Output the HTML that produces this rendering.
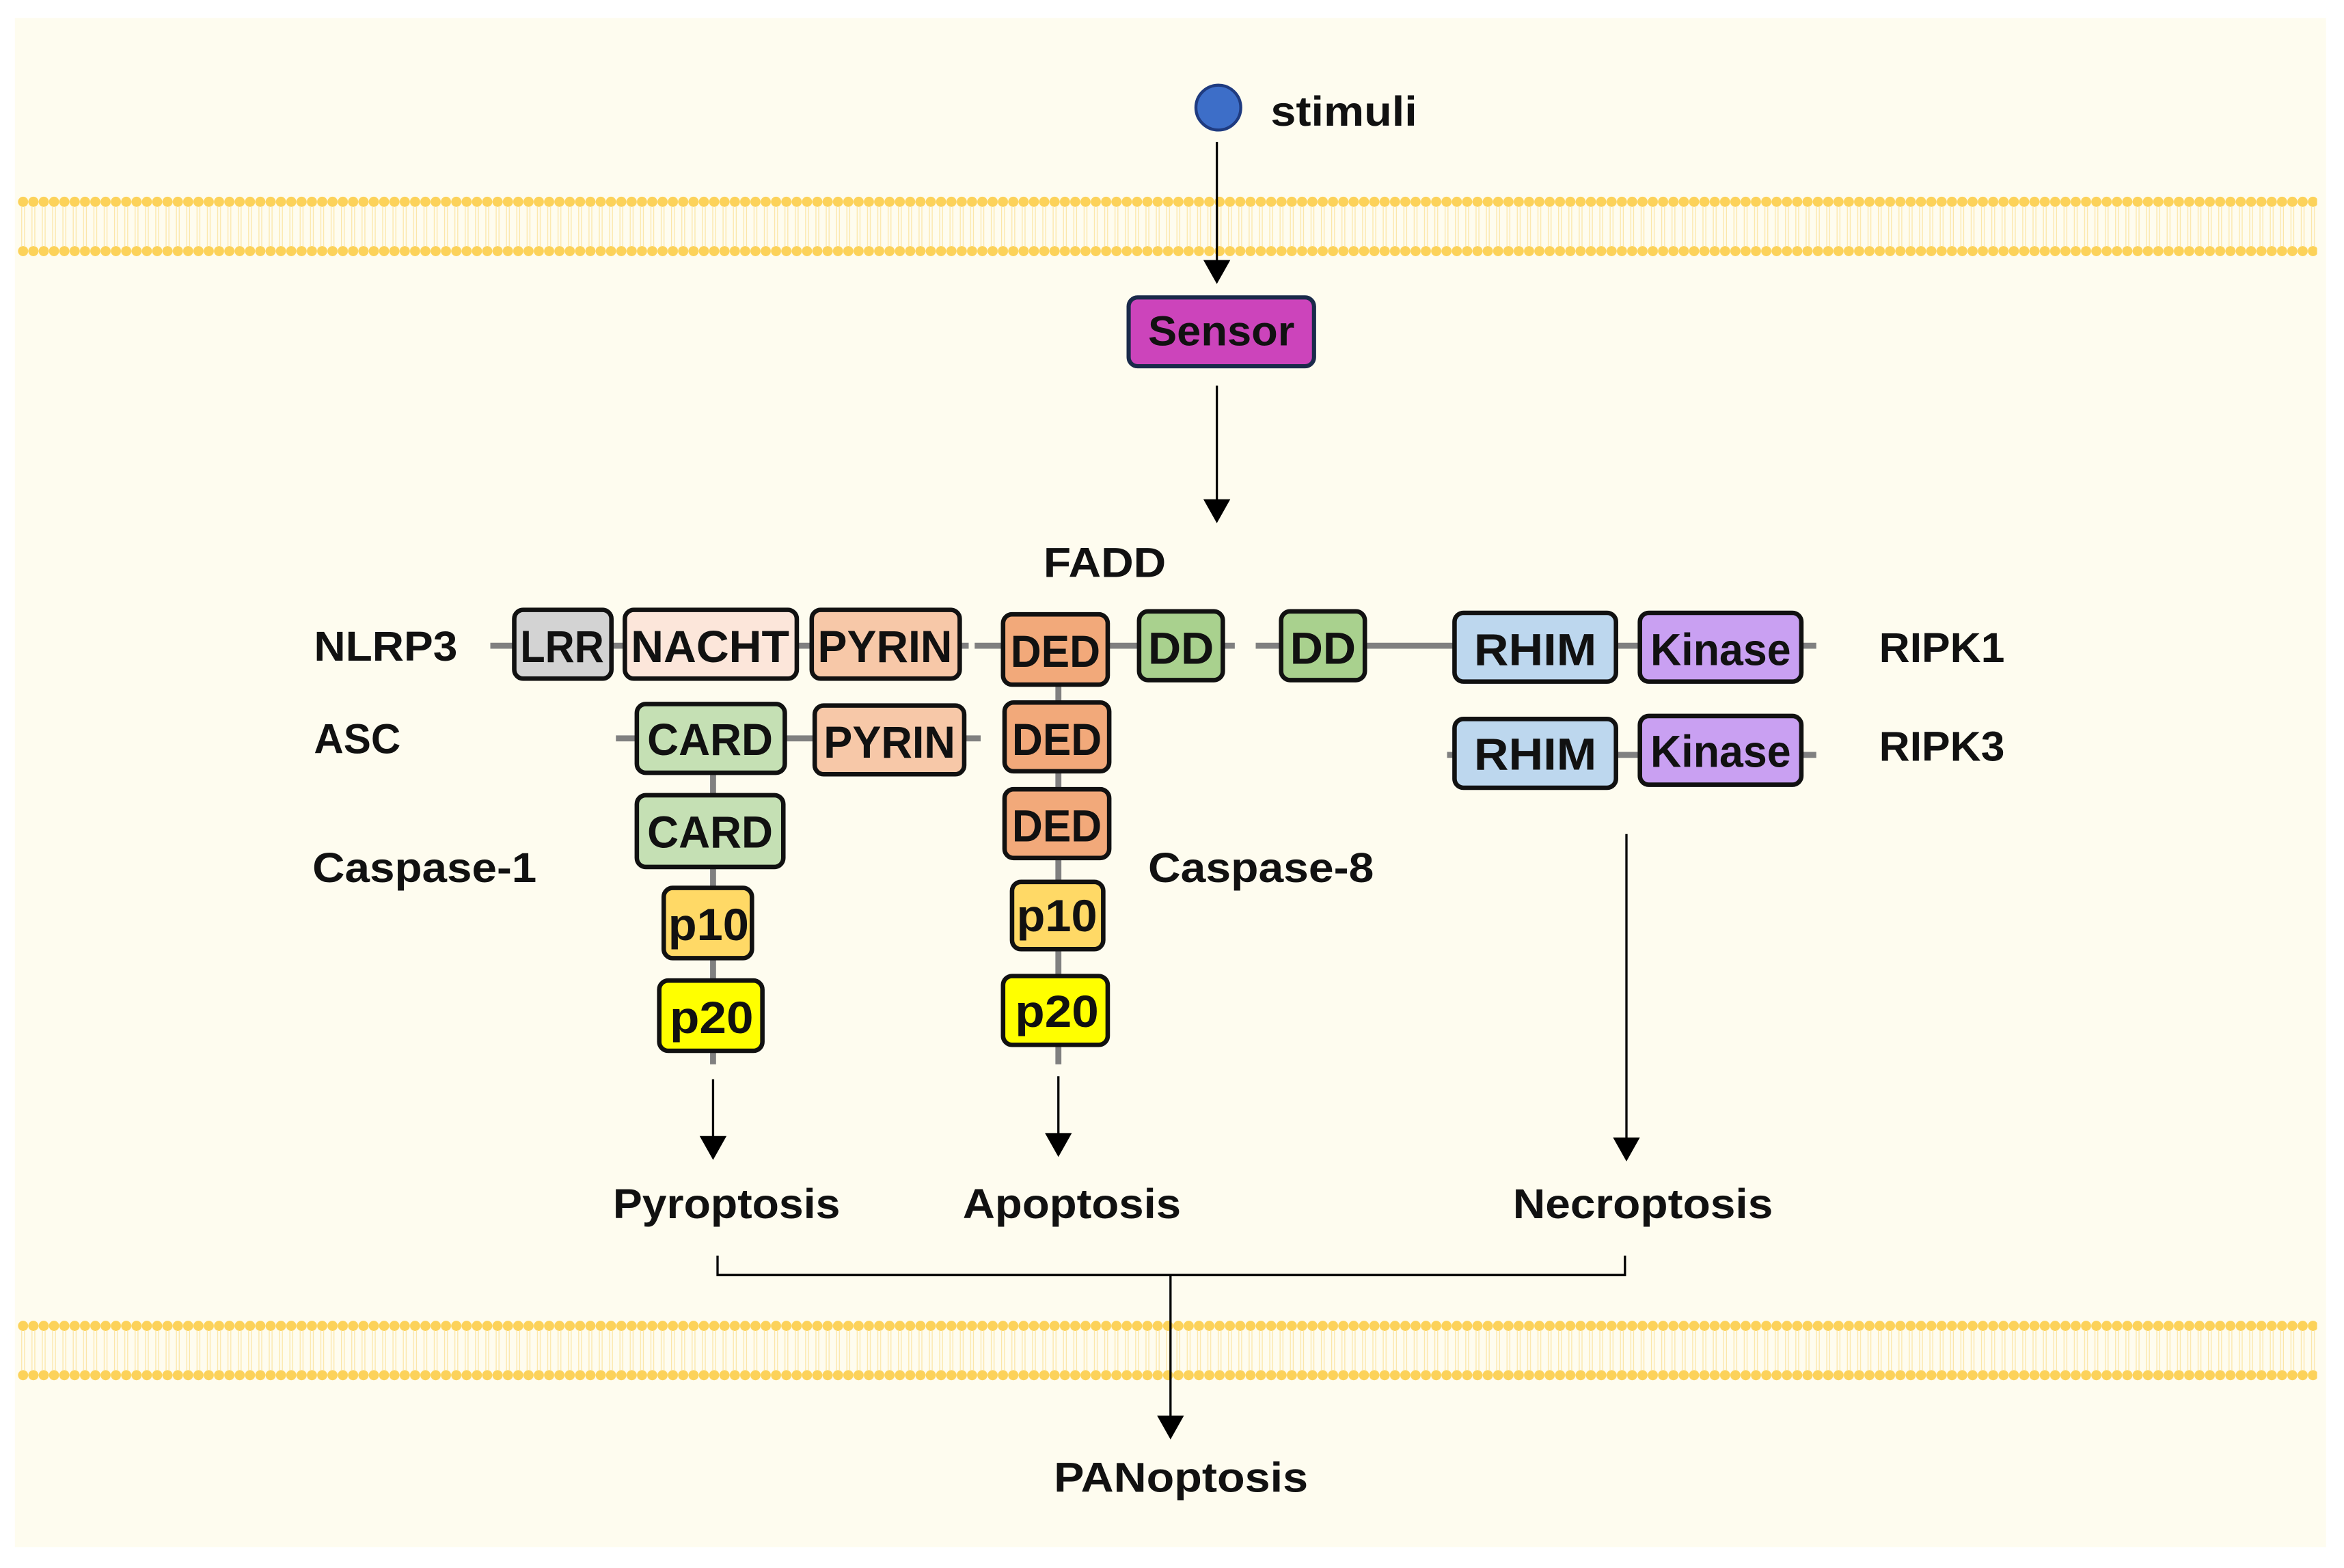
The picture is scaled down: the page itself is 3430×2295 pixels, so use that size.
<!DOCTYPE html>
<html><head><meta charset="utf-8"><style>html,body{margin:0;padding:0;background:#fff}svg{display:block}</style></head><body>
<svg width="3430" height="2295" viewBox="0 0 1568 1049" preserveAspectRatio="none" xmlns="http://www.w3.org/2000/svg" font-family="Liberation Sans, sans-serif">
<defs>
<pattern id="heads" x="12" y="0" width="6.9" height="1049" patternUnits="userSpaceOnUse">
<circle cx="3.45" cy="135" r="3.4" fill="#fcd25a"/>
<circle cx="3.45" cy="168" r="3.4" fill="#fcd25a"/>
<line x1="2.5" y1="138" x2="2.5" y2="165" stroke="#fbe6a8" stroke-width="0.6"/>
<line x1="4.4" y1="138" x2="4.4" y2="165" stroke="#fbe6a8" stroke-width="0.6"/>
</pattern>
<pattern id="heads2" x="12" y="0" width="6.9" height="1049" patternUnits="userSpaceOnUse">
<circle cx="3.45" cy="887" r="3.4" fill="#fcd25a"/>
<circle cx="3.45" cy="920" r="3.4" fill="#fcd25a"/>
<line x1="2.5" y1="890" x2="2.5" y2="917" stroke="#fbe6a8" stroke-width="0.6"/>
<line x1="4.4" y1="890" x2="4.4" y2="917" stroke="#fbe6a8" stroke-width="0.6"/>
</pattern>
</defs>
<rect x="10" y="12" width="1546" height="1023" fill="#fefcef"/>
<rect x="12" y="130" width="1538" height="43" fill="url(#heads)"/>
<rect x="12" y="882" width="1538" height="43" fill="url(#heads2)"/>

<g stroke="#000" stroke-width="1.5" fill="none">
<line x1="814" y1="95" x2="814" y2="176"/>
<line x1="814" y1="258" x2="814" y2="336"/>
<line x1="477" y1="722" x2="477" y2="762"/>
<line x1="708" y1="720" x2="708" y2="760"/>
<line x1="1088" y1="558" x2="1088" y2="763"/>
<path d="M480 840 V853 H1087 V840"/>
<line x1="783" y1="853" x2="783" y2="950"/>
</g>
<g fill="#000">
<polygon points="805,174 823,174 814,190"/>
<polygon points="805,334 823,334 814,350"/>
<polygon points="468,760 486,760 477,776"/>
<polygon points="699,758 717,758 708,774"/>
<polygon points="1079,761 1097,761 1088,777"/>
<polygon points="774,947 792,947 783,963"/>
</g>

<circle cx="815" cy="72" r="15" fill="#3d6ec8" stroke="#1f3b80" stroke-width="2"/>
<rect x="755" y="199" width="124" height="46" rx="6" fill="#cc44bb" stroke="#1a2a4a" stroke-width="2.8"/>
<text x="817" y="231" font-size="28" font-weight="bold" text-anchor="middle" fill="#111" textLength="98" lengthAdjust="spacingAndGlyphs">Sensor</text>

<g stroke="#808080" stroke-width="4">
<line x1="328" y1="432" x2="648" y2="432"/>
<line x1="652" y1="432" x2="670" y2="432"/>
<line x1="740" y1="432" x2="826" y2="432"/>
<line x1="840" y1="432" x2="975" y2="432"/>
<line x1="1080" y1="432" x2="1215" y2="432"/>
<line x1="412" y1="494" x2="656" y2="494"/>
<line x1="968" y1="505" x2="1215" y2="505"/>
<line x1="477" y1="517" x2="477" y2="712"/>
<line x1="708" y1="458" x2="708" y2="712"/>
</g>

<g stroke="#111" stroke-width="3">
<rect x="344" y="408" width="65" height="46" rx="6" fill="#d3d3d3"/>
<rect x="418" y="408" width="115" height="46" rx="6" fill="#fce6da"/>
<rect x="543" y="408" width="99" height="46" rx="6" fill="#f7c8a8"/>
<rect x="671" y="411" width="70" height="47" rx="6" fill="#f2a97a"/>
<rect x="762" y="409" width="56" height="46" rx="6" fill="#a9d18e"/>
<rect x="857" y="409" width="56" height="46" rx="6" fill="#a9d18e"/>
<rect x="973" y="410" width="108" height="46" rx="6" fill="#bdd7ee"/>
<rect x="1097" y="410" width="108" height="46" rx="6" fill="#c9a0f2"/>
<rect x="426" y="471" width="99" height="46" rx="6" fill="#c5e0b4"/>
<rect x="545" y="472" width="100" height="46" rx="6" fill="#f7c8a8"/>
<rect x="672" y="470" width="70" height="46" rx="6" fill="#f2a97a"/>
<rect x="973" y="481" width="108" height="46" rx="6" fill="#bdd7ee"/>
<rect x="1097" y="479" width="108" height="46" rx="6" fill="#c9a0f2"/>
<rect x="426" y="532" width="98" height="48" rx="6" fill="#c5e0b4"/>
<rect x="444" y="594" width="59" height="47" rx="6" fill="#ffd966"/>
<rect x="441" y="656" width="69" height="47" rx="6" fill="#ffff00"/>
<rect x="672" y="528" width="70" height="46" rx="6" fill="#f2a97a"/>
<rect x="677" y="590" width="61" height="45" rx="6" fill="#ffd966"/>
<rect x="671" y="653" width="70" height="46" rx="6" fill="#ffff00"/>
</g>

<g font-size="30" fill="#111" text-anchor="middle" font-weight="bold">
<text x="376" y="443" textLength="56" lengthAdjust="spacingAndGlyphs">LRR</text>
<text x="475" y="443" textLength="106" lengthAdjust="spacingAndGlyphs">NACHT</text>
<text x="592" y="443" textLength="90" lengthAdjust="spacingAndGlyphs">PYRIN</text>
<text x="706" y="446" textLength="60" lengthAdjust="spacingAndGlyphs">DED</text>
<text x="790" y="444" textLength="44" lengthAdjust="spacingAndGlyphs">DD</text>
<text x="885" y="444" textLength="44" lengthAdjust="spacingAndGlyphs">DD</text>
<text x="1027" y="445" textLength="82" lengthAdjust="spacingAndGlyphs">RHIM</text>
<text x="1151" y="445" textLength="94" lengthAdjust="spacingAndGlyphs">Kinase</text>
<text x="475" y="505" textLength="84" lengthAdjust="spacingAndGlyphs">CARD</text>
<text x="595" y="507" textLength="88" lengthAdjust="spacingAndGlyphs">PYRIN</text>
<text x="707" y="505" textLength="60" lengthAdjust="spacingAndGlyphs">DED</text>
<text x="1027" y="515" textLength="82" lengthAdjust="spacingAndGlyphs">RHIM</text>
<text x="1151" y="513" textLength="94" lengthAdjust="spacingAndGlyphs">Kinase</text>
<text x="475" y="567" textLength="84" lengthAdjust="spacingAndGlyphs">CARD</text>
<text x="474" y="629" textLength="54" lengthAdjust="spacingAndGlyphs">p10</text>
<text x="476" y="691" textLength="56" lengthAdjust="spacingAndGlyphs">p20</text>
<text x="707" y="563" textLength="60" lengthAdjust="spacingAndGlyphs">DED</text>
<text x="707" y="623" textLength="54" lengthAdjust="spacingAndGlyphs">p10</text>
<text x="707" y="687" textLength="56" lengthAdjust="spacingAndGlyphs">p20</text>
</g>

<g font-size="28" font-weight="bold" fill="#111">
<text x="850" y="84" textLength="98" lengthAdjust="spacingAndGlyphs">stimuli</text>
<text x="698" y="386" textLength="82" lengthAdjust="spacingAndGlyphs">FADD</text>
<text x="210" y="442" textLength="96" lengthAdjust="spacingAndGlyphs">NLRP3</text>
<text x="210" y="504" textLength="58" lengthAdjust="spacingAndGlyphs">ASC</text>
<text x="209" y="590" textLength="150" lengthAdjust="spacingAndGlyphs">Caspase-1</text>
<text x="768" y="590" textLength="151" lengthAdjust="spacingAndGlyphs">Caspase-8</text>
<text x="1257" y="443" textLength="84" lengthAdjust="spacingAndGlyphs">RIPK1</text>
<text x="1257" y="509" textLength="84" lengthAdjust="spacingAndGlyphs">RIPK3</text>
<text x="410" y="815" textLength="152" lengthAdjust="spacingAndGlyphs">Pyroptosis</text>
<text x="644" y="815" textLength="146" lengthAdjust="spacingAndGlyphs">Apoptosis</text>
<text x="1012" y="815" textLength="174" lengthAdjust="spacingAndGlyphs">Necroptosis</text>
<text x="705" y="998" textLength="170" lengthAdjust="spacingAndGlyphs">PANoptosis</text>
</g>
</svg>
</body></html>
